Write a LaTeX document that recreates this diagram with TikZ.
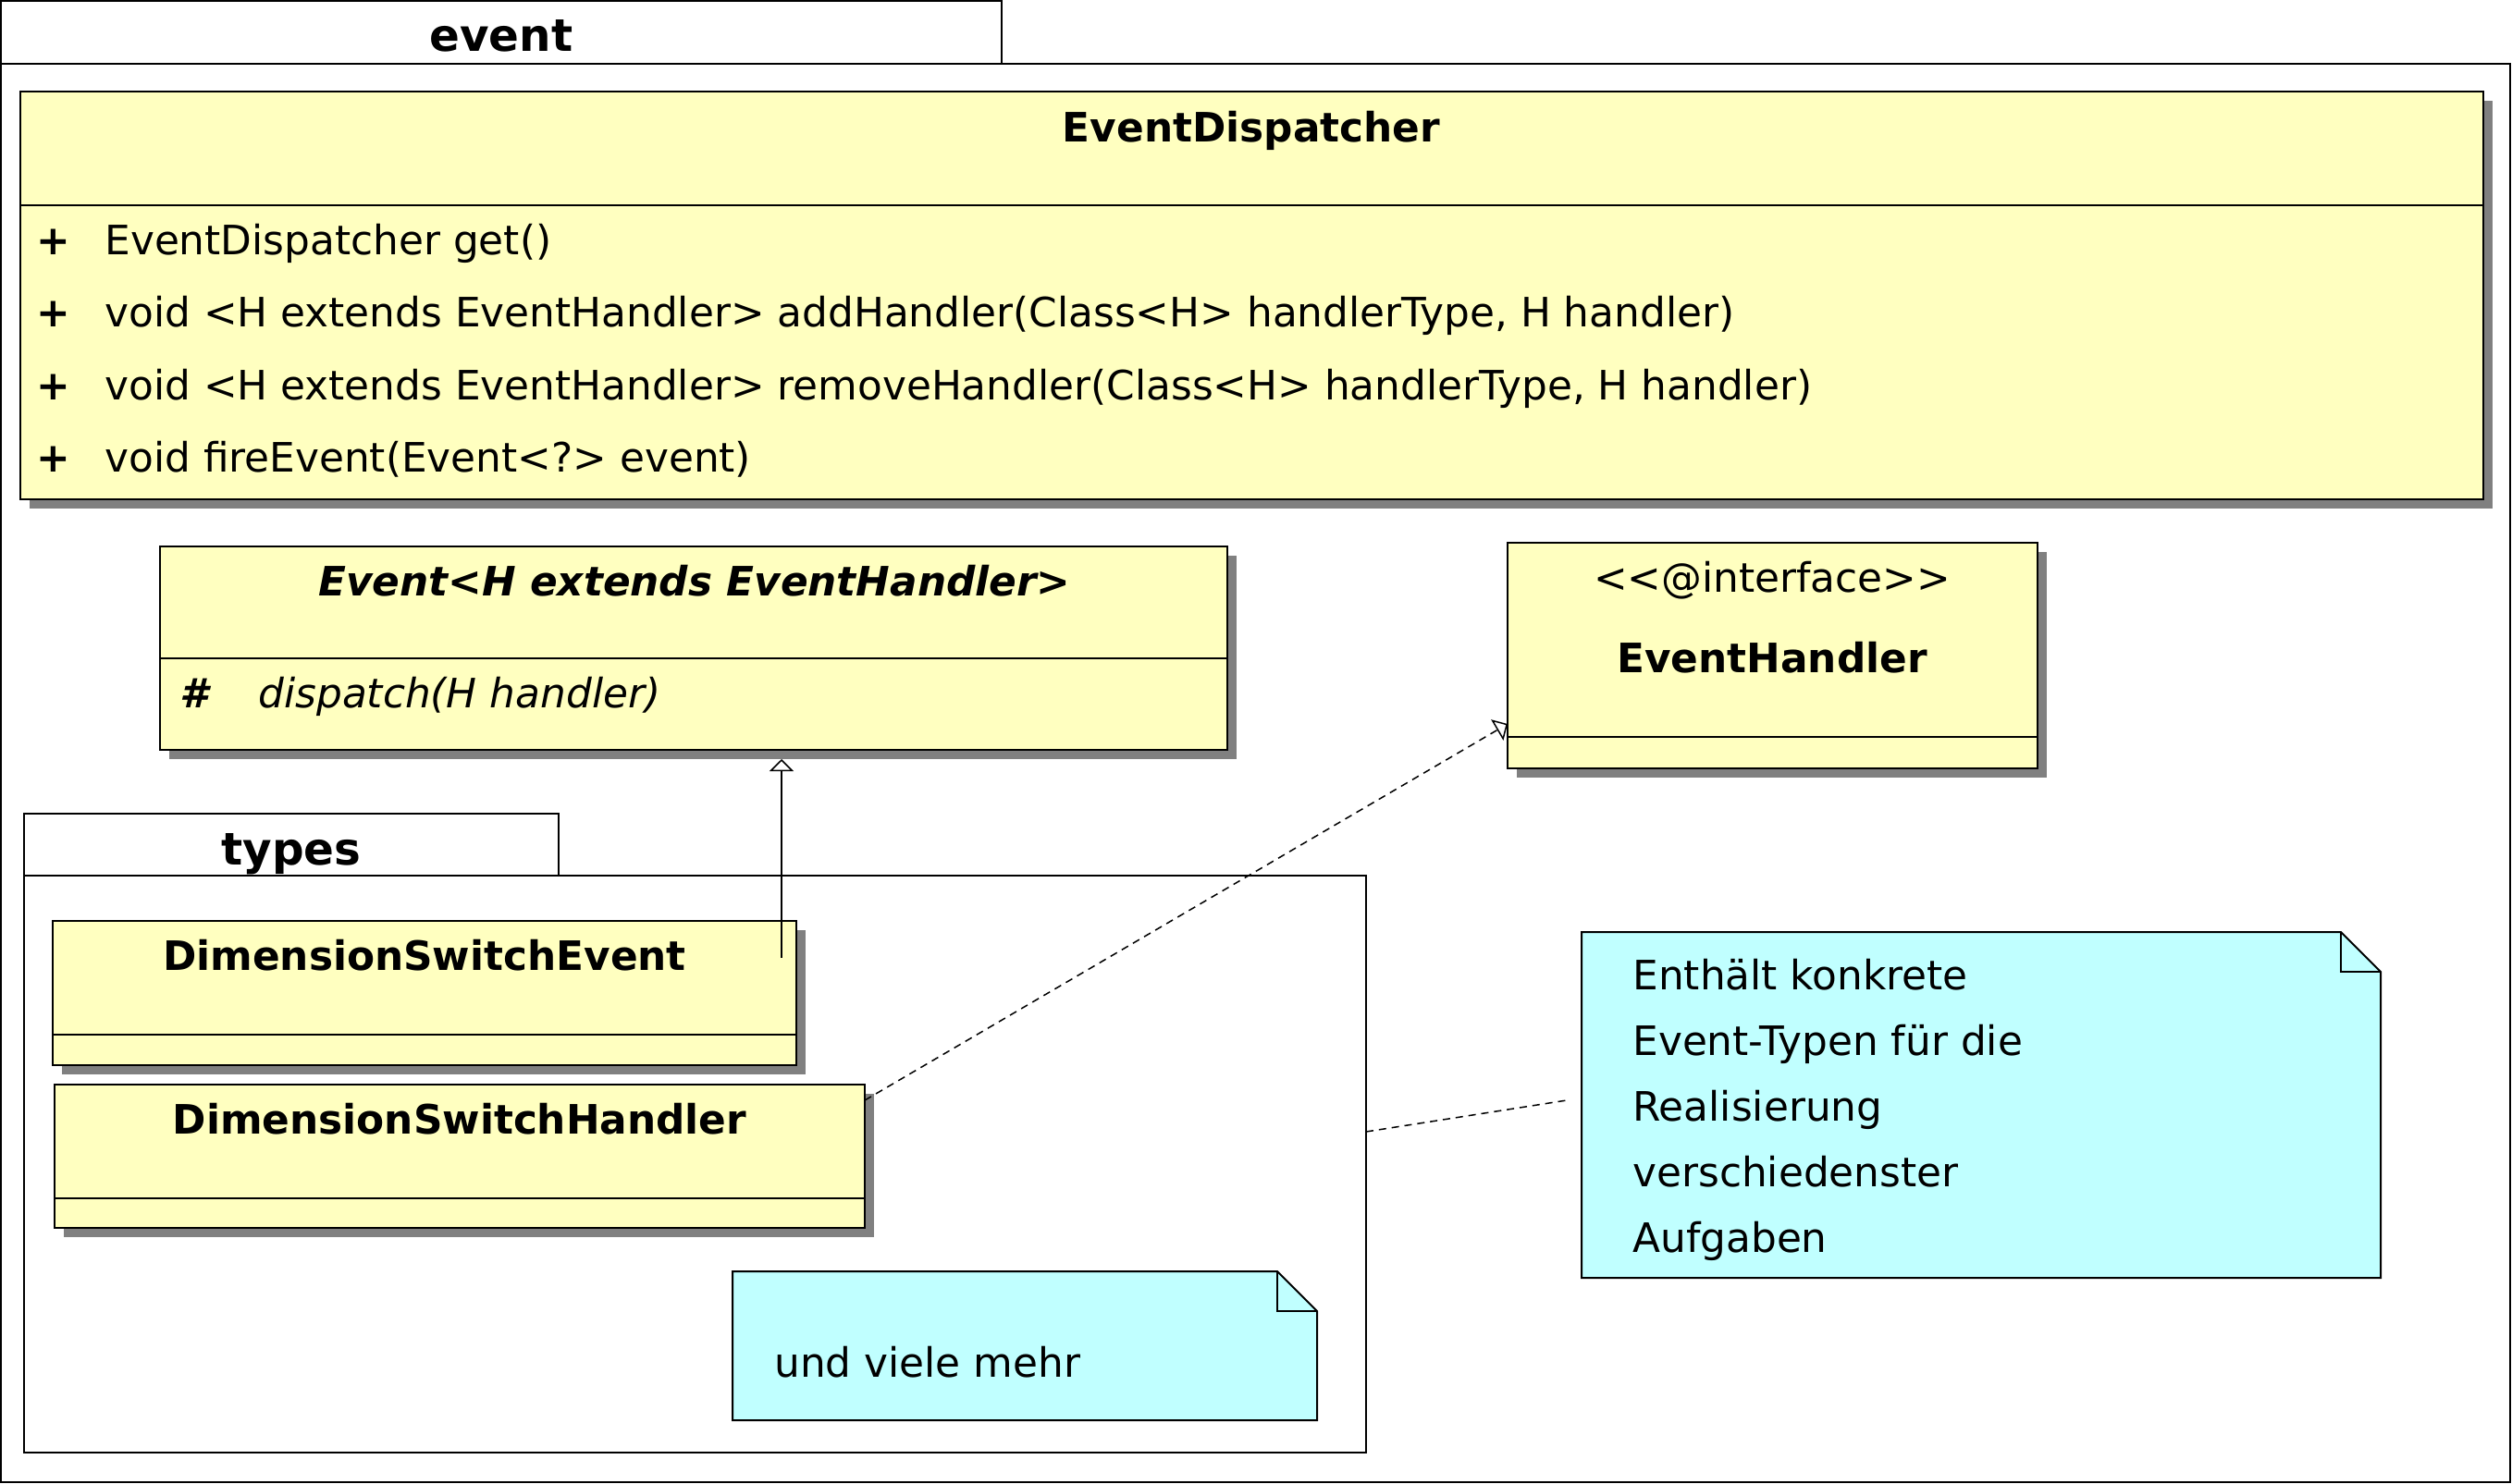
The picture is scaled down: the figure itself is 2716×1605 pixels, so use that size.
\documentclass[tikz,border=0pt]{standalone}
\usepackage{fontspec}
\setmainfont{DejaVu Sans}
\usetikzlibrary{arrows.meta,calc,shadows}
\definecolor{clsfill}{HTML}{FFFFC0}
\definecolor{notefill}{HTML}{C0FFFF}
\definecolor{shadowgray}{HTML}{808080}
\begin{document}
\begin{tikzpicture}[x=0.5pt,y=-0.5pt,
  box/.style={draw=black, line width=1pt, inner sep=0pt, outer sep=0pt, anchor=north west},
  pkg/.style={box, fill=white},
  cls/.style={box, fill=clsfill, drop shadow={shadow xshift=5pt, shadow yshift=-5pt, fill=shadowgray, opacity=1, draw=none}},
  noteshape/.style={draw=black, line width=1pt, fill=notefill, line join=miter},
  notebox/.style={inner sep=0pt, outer sep=0pt, anchor=north west},
  divider/.style={draw=black, line width=1pt},
  txt/.style={inner sep=0pt, font=\fontsize{21.9}{26}\selectfont},
  btxt/.style={txt, font=\fontsize{21.9}{26}\selectfont\bfseries},
  bitxt/.style={txt, font=\fontsize{21.9}{26}\selectfont\bfseries\itshape},
  itxt/.style={txt, font=\fontsize{21.9}{26}\selectfont\itshape},
  pkgtxt/.style={txt, font=\fontsize{24.2}{28}\selectfont\bfseries},
  conn/.style={draw=black, line width=0.75pt},
  dconn/.style={conn, dash pattern=on 4pt off 3pt},
  opentri/.style={-{Triangle[open, length=6.5pt, width=13pt, line width=0.75pt]}}
]
\useasboundingbox (0,0) rectangle (2716,1605);
\fill[white] (0,0) rectangle (2716,1605);

% package event
\node[pkg, minimum width=541pt, minimum height=34pt] (eventtab) at (1,1) {};
\node[pkg, minimum width=1356.5pt, minimum height=767pt] (eventpkg) at (1,69) {};
\node[pkgtxt, anchor=base] (eventlbl) at (542,56) {event};

% EventDispatcher
\node[cls, minimum width=1331.5pt, minimum height=220.5pt] (ed) at (22,99) {};
\draw[divider] ($(ed.north west)+(0,123)$) -- ($(ed.north east)+(0,123)$);
\node[btxt, anchor=base] (edt) at (1353,154) {EventDispatcher};
\node[btxt, anchor=base] (edp1) at (58,276) {+};
\node[btxt, anchor=base] (edp2) at (58,354) {+};
\node[btxt, anchor=base] (edp3) at (58,432) {+};
\node[btxt, anchor=base] (edp4) at (58,510) {+};
\node[txt, anchor=base west] (edm1) at (113,276) {EventDispatcher get()};
\node[txt, anchor=base west] (edm2) at (113,354) {void <H extends EventHandler> addHandler(Class<H> handlerType, H handler)};
\node[txt, anchor=base west] (edm3) at (113,432) {void <H extends EventHandler> removeHandler(Class<H> handlerType, H handler)};
\node[txt, anchor=base west] (edm4) at (113,510) {void fireEvent(Event<?> event)};

% Event
\node[cls, minimum width=577pt, minimum height=110pt] (ev) at (173,591) {};
\draw[divider] ($(ev.north west)+(0,121)$) -- ($(ev.north east)+(0,121)$);
\node[bitxt, anchor=base] (evt) at (751,644) {Event<H extends EventHandler>};
\node[bitxt, anchor=base] (evh) at (210,765) {\#};
\node[itxt, anchor=base west] (evm) at (279,765) {dispatch(H handler)};

% EventHandler
\node[cls, minimum width=286.5pt, minimum height=122pt] (eh) at (1630,587) {};
\draw[divider] ($(eh.north west)+(0,210)$) -- ($(eh.north east)+(0,210)$);
\node[txt, anchor=base] (ehs) at (1916,640) {<{}<@interface>{}>};
\node[btxt, anchor=base] (eht) at (1916,727) {EventHandler};

% package types
\node[pkg, minimum width=289pt, minimum height=33.5pt] (typestab) at (26,880) {};
\node[pkg, minimum width=725.5pt, minimum height=312pt] (typespkg) at (26,947) {};
\node[pkgtxt, anchor=base] (typeslbl) at (315,935) {types};

% DimensionSwitchEvent
\node[cls, minimum width=402pt, minimum height=78pt] (dse) at (57,996) {};
\draw[divider] ($(dse.north west)+(0,123)$) -- ($(dse.north east)+(0,123)$);
\node[btxt, anchor=base] (dset) at (459,1049) {DimensionSwitchEvent};

% DimensionSwitchHandler
\node[cls, minimum width=438pt, minimum height=77.5pt] (dsh) at (59,1173) {};
\draw[divider] ($(dsh.north west)+(0,123)$) -- ($(dsh.north east)+(0,123)$);
\node[btxt, anchor=base] (dsht) at (497,1226) {DimensionSwitchHandler};

% note 1
\node[notebox, minimum width=316pt, minimum height=80.5pt] (n1) at (792,1375) {};
\filldraw[noteshape] (n1.north west) -- ($(n1.north east)+(-43,0)$) -- ($(n1.north east)+(0,43)$) -- (n1.south east) -- (n1.south west) -- cycle;
\draw[line width=1pt] ($(n1.north east)+(-43,0)$) -- ($(n1.north east)+(-43,43)$) -- ($(n1.north east)+(0,43)$);
\node[txt, anchor=base west] (n1t) at (837,1489) {und viele mehr};

% note 2
\node[notebox, minimum width=432pt, minimum height=187pt] (n2) at (1710,1008) {};
\filldraw[noteshape] (n2.north west) -- ($(n2.north east)+(-43,0)$) -- ($(n2.north east)+(0,43)$) -- (n2.south east) -- (n2.south west) -- cycle;
\draw[line width=1pt] ($(n2.north east)+(-43,0)$) -- ($(n2.north east)+(-43,43)$) -- ($(n2.north east)+(0,43)$);
\node[txt, anchor=base west] (n2t1) at (1765,1070) {Enthält konkrete};
\node[txt, anchor=base west] (n2t2) at (1765,1141) {Event-Typen für die};
\node[txt, anchor=base west] (n2t3) at (1765,1212) {Realisierung};
\node[txt, anchor=base west] (n2t4) at (1765,1283) {verschiedenster};
\node[txt, anchor=base west] (n2t5) at (1765,1354) {Aufgaben};

% connectors
\coordinate (genstart) at (845,1036);
\draw[conn, opentri, shorten >=5pt] (genstart) -- (genstart |- ev.south);
\coordinate (realstart) at ($(dsh.north east)+(0,17)$);
\coordinate (realend) at ($(eh.south west)+(0,-48)$);
\draw[dconn, opentri] (realstart) -- (realend);
\coordinate (linkstart) at ($(typespkg.north east)+(0,277)$);
\coordinate (linkend) at ($(n2.north west)+(-16,182)$);
\draw[dconn] (linkstart) -- (linkend);
\end{tikzpicture}
\end{document}
